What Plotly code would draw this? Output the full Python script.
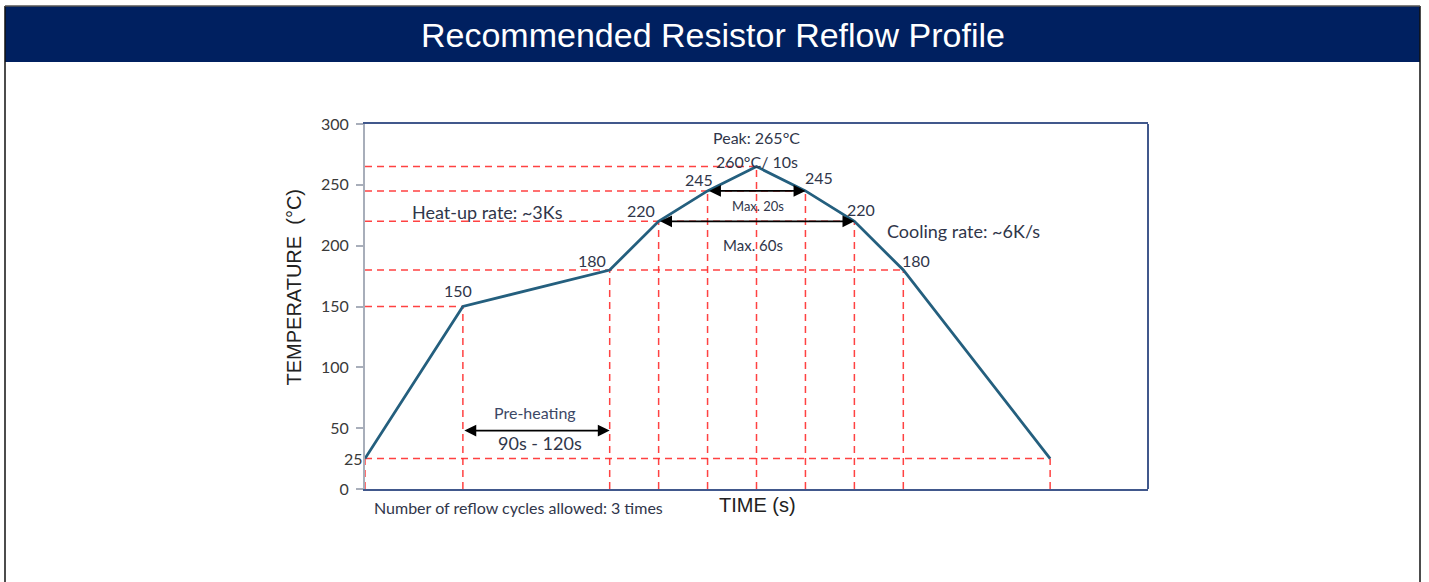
import plotly.graph_objects as go

# ---- data ----
time_s = [0, 50, 125, 150, 175, 200, 225, 250, 275, 350]
temp_c = [25, 150, 180, 220, 245, 265, 245, 220, 180, 25]
y_ticks = [0, 50, 100, 150, 200, 250, 300]

# double-headed arrows: (start time, end time, temperature)
arrow_start = [50, 175, 150]
arrow_end = [125, 225, 250]
arrow_temp = [48, 245, 220]

# point labels (index into the profile), pixel offsets kept separately
label_idx = [1, 2, 3, 4, 6, 7, 8]
label_dx = [-5, -18, -18, -9, 14, 7, 13]
label_dy = [16, 10, 11, 11, 13, 12, 10]

title = "Recommended Resistor Reflow Profile"

W, H = 1429, 582
L, R, T, B = 365, 281, 124, 93
pw, ph = W - L - R, H - T - B


def px_x(px):
    return (px - L) / pw


def px_y(py):
    return (H - B - py) / ph


RED = "rgba(255,45,45,0.9)"
DASH = "7px,5px"
TXT = "#30364a"
fig = go.Figure()

# horizontal guide lines: from the axis to the last point at that temperature
levels = sorted(set(temp_c))
for lv in levels:
    last_t = max(t for t, v in zip(time_s, temp_c) if v == lv)
    fig.add_trace(go.Scatter(x=[0, last_t], y=[lv, lv], mode="lines",
                             line=dict(color=RED, width=1.5, dash=DASH),
                             hoverinfo="skip", showlegend=False))
# vertical guide lines
for t, v in zip(time_s, temp_c):
    fig.add_trace(go.Scatter(x=[t, t], y=[0, v], mode="lines",
                             line=dict(color=RED, width=1.5, dash=DASH),
                             hoverinfo="skip", showlegend=False))

# profile
fig.add_trace(go.Scatter(x=time_s, y=temp_c, mode="lines",
                         line=dict(color="#245f7e", width=2.8),
                         hoverinfo="skip", showlegend=False))

C = dict(xanchor="center", yanchor="middle")
ann = []
# arrows
for a, b, v in zip(arrow_start, arrow_end, arrow_temp):
    ann.append(dict(x=b, y=v, ax=a, ay=v, xref="x", yref="y", axref="x", ayref="y",
                    text="", showarrow=True, arrowside="end+start", arrowhead=2,
                    arrowsize=1.4, arrowwidth=1.7, arrowcolor="black",
                    standoff=0, startstandoff=0))

# point labels
for i, dx, dy in zip(label_idx, label_dx, label_dy):
    ann.append(dict(x=time_s[i], y=temp_c[i], text=str(temp_c[i]), showarrow=False,
                    xshift=dx, yshift=dy, **C,
                    font=dict(family="Lato", size=16, color=TXT)))

peak = max(temp_c)
ipk = temp_c.index(peak)
ann += [
    dict(x=time_s[ipk], y=288.5, text=f"Peak: {peak}°C", showarrow=False, **C,
         font=dict(family="Lato", size=16, color=TXT)),
    dict(x=time_s[ipk], y=268.8, text="260°C/ 10s", showarrow=False, **C,
         font=dict(family="Lato", size=16, color=TXT)),
    dict(x=200.8, y=232.6, text="Max. 20s", showarrow=False, **C,
         font=dict(family="Lato", size=13, color=TXT)),
    dict(x=198, y=200.5, text="Max. 60s", showarrow=False, **C,
         font=dict(family="Lato", size=15, color=TXT)),
    dict(x=23, y=227.7, text="Heat-up rate: ~3Ks", showarrow=False, xanchor="left",
         yanchor="middle", font=dict(family="Lato", size=18, color=TXT)),
    dict(x=265.6, y=212, text="Cooling rate: ~6K/s", showarrow=False, xanchor="left",
         yanchor="middle", font=dict(family="Lato", size=18, color=TXT)),
    dict(x=86.8, y=62.5, text="Pre-heating", showarrow=False, **C,
         font=dict(family="Lato", size=16, color="#3c4866")),
    dict(x=89.4, y=37.8, text="90s - 120s", showarrow=False, **C,
         font=dict(family="Lato", size=18, color=TXT)),
    dict(xref="paper", yref="paper", x=px_x(372), y=px_y(507),
         text="Number of reflow cycles allowed: 3 times", showarrow=False,
         xanchor="left", yanchor="middle", font=dict(family="Lato", size=16, color=TXT)),
    dict(xref="paper", yref="paper", x=px_x(757), y=px_y(505), text="TIME (s)",
         showarrow=False, **C,
         font=dict(family="Liberation Sans", size=20, color="#222222")),
    dict(xref="paper", yref="y", x=px_x(353), y=25, text="25", showarrow=False, **C,
         font=dict(family="Lato", size=16, color="#3a3a3a")),
    dict(xref="paper", yref="paper", x=px_x(293.5), y=px_y(287), text="TEMPERATURE  (°C)",
         textangle=-90, showarrow=False, **C,
         font=dict(family="Liberation Sans", size=20, color="#222222")),
    dict(xref="paper", yref="paper", x=px_x(712.5), y=px_y(35), text=title,
         showarrow=False, **C,
         font=dict(family="Liberation Sans", size=34, color="white")),
]

shapes = [
    # header band
    dict(type="rect", xref="paper", yref="paper", x0=px_x(5), x1=px_x(1420),
         y0=px_y(62), y1=px_y(6), fillcolor="#002060", line=dict(width=0), layer="below"),
    # outer border
    dict(type="line", xref="paper", yref="paper", x0=px_x(5), x1=px_x(5),
         y0=px_y(6), y1=px_y(600), line=dict(color="#111111", width=1.5)),
    dict(type="line", xref="paper", yref="paper", x0=px_x(1420), x1=px_x(1420),
         y0=px_y(6), y1=px_y(600), line=dict(color="#111111", width=1.5)),
    dict(type="line", xref="paper", yref="paper", x0=px_x(5), x1=px_x(1420),
         y0=px_y(6), y1=px_y(6), line=dict(color="#555555", width=1.5)),
    # plot frame (right edge)
    dict(type="line", xref="paper", yref="paper", x0=1, x1=1, y0=0, y1=1,
         line=dict(color="#41588c", width=2)),
]

fig.update_layout(
    width=W, height=H,
    margin=dict(l=L, r=R, t=T, b=B, pad=0),
    paper_bgcolor="white", plot_bgcolor="white",
    annotations=ann, shapes=shapes,
    xaxis=dict(range=[0, 400], showticklabels=False, ticks="", showgrid=False,
               zeroline=False, showline=True, linecolor="#41588c", linewidth=2,
               mirror=True, fixedrange=True),
    yaxis=dict(range=[0, 300], tickvals=y_ticks, ticks="outside", ticklen=7,
               tickcolor="#a8aeba", tickwidth=1.5, showgrid=False, zeroline=False,
               showline=True, linecolor="#a8aeba", linewidth=2,
               ticklabelstandoff=4,
               tickfont=dict(family="Lato", size=16, color="#3a3a3a"), fixedrange=True),
    font=dict(family="Lato"),
)

fig.write_html("out.html", config={"displayModeBar": False},
               post_script="document.body.style.margin='0';document.body.style.overflow='hidden';")
